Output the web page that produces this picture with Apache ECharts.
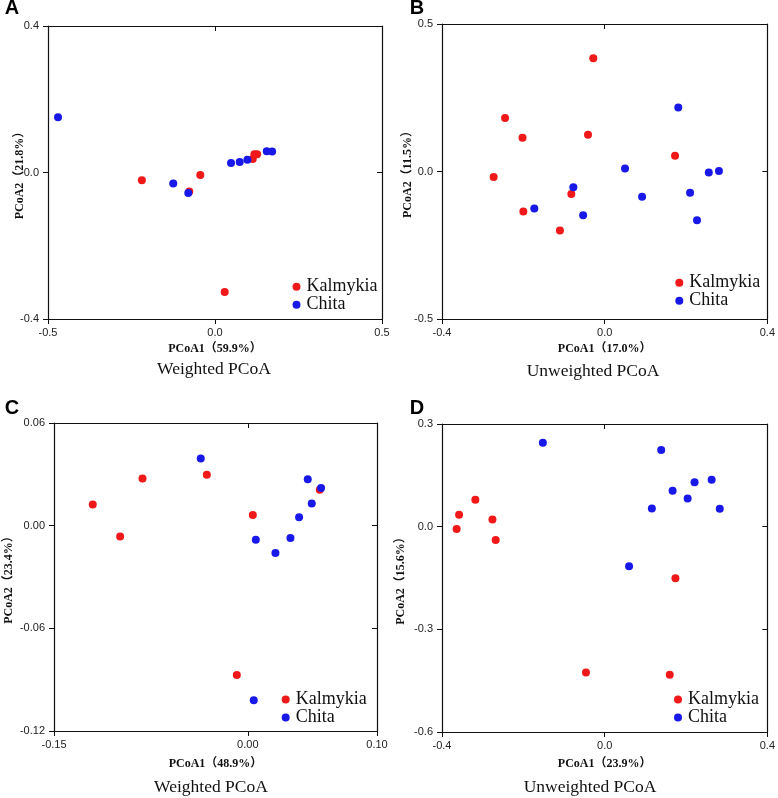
<!DOCTYPE html>
<html>
<head>
<meta charset="utf-8">
<title>PCoA</title>
<script src="https://cdn.jsdelivr.net/npm/echarts@6/dist/echarts.min.js"></script>
<style>
  html, body { margin: 0; padding: 0; background: #fff; }
  #chart { width: 778px; height: 798px; }
</style>
</head>
<body>
<div id="chart"></div>
<script>
// PCoA coordinates, [PCoA1, PCoA2]
const weightedA_kalmykia = [[-0.219, -0.021], [-0.044, -0.007], [-0.077, -0.052], [0.113, 0.037], [0.118, 0.050], [0.126, 0.050], [0.029, -0.326]];
const weightedA_chita = [[-0.470, 0.151], [-0.125, -0.030], [-0.080, -0.056], [0.048, 0.026], [0.074, 0.029], [0.097, 0.035], [0.155, 0.058], [0.171, 0.057]];

const unweightedB_kalmykia = [[-0.028, 0.384], [-0.245, 0.181], [-0.202, 0.114], [-0.041, 0.125], [-0.273, -0.019], [-0.082, -0.076], [-0.200, -0.136], [-0.110, -0.200], [0.173, 0.053]];
const unweightedB_chita = [[0.181, 0.217], [0.050, 0.010], [0.256, -0.003], [0.281, 0.002], [-0.077, -0.053], [0.210, -0.072], [0.092, -0.086], [-0.173, -0.125], [-0.053, -0.148], [0.227, -0.165]];

const weightedC_kalmykia = [[-0.120, 0.0123], [-0.0988, -0.0064], [-0.0815, 0.0275], [-0.0317, 0.0298], [0.0039, 0.0062], [0.0557, 0.021], [-0.0085, -0.0873]];
const weightedC_chita = [[-0.0364, 0.0392], [0.0464, 0.0271], [0.0567, 0.0220], [0.0495, 0.0130], [0.0397, 0.0049], [0.033, -0.0072], [0.0062, -0.0082], [0.0214, -0.016], [0.0046, -0.102]];

const unweightedD_kalmykia = [[-0.364, -0.007], [-0.358, 0.035], [-0.318, 0.079], [-0.276, 0.021], [-0.268, -0.039], [0.174, -0.151], [-0.046, -0.426], [0.160, -0.433]];
const unweightedD_chita = [[-0.152, 0.245], [0.139, 0.224], [0.263, 0.137], [0.221, 0.130], [0.167, 0.105], [0.204, 0.082], [0.116, 0.053], [0.283, 0.052], [0.060, -0.116]];

// tick values of each panel (first, second ... last)
const xTicksA = [-0.5, 0, 0.5];
const yTicksA = [-0.4, 0, 0.4];
const xTicksB = [-0.4, 0, 0.4];
const yTicksB = [-0.5, 0, 0.5];
const xTicksC = [-0.15, 0, 0.10];
const yTicksC = [-0.12, -0.06, 0, 0.06];
const xTicksD = [-0.4, 0, 0.4];
const yTicksD = [-0.6, -0.3, 0, 0.3];

const groups = ['Kalmykia', 'Chita'];
const xNames = ['PCoA1（59.9%）', 'PCoA1（17.0%）', 'PCoA1（48.9%）', 'PCoA1（23.9%）'];
const yNames = ['PCoA2（21.8%）', 'PCoA2（11.5%）', 'PCoA2（23.4%）', 'PCoA2（15.6%）'];
const subTitles = ['Weighted PCoA', 'Unweighted PCoA', 'Weighted PCoA', 'Unweighted PCoA'];
const letters = ['A', 'B', 'C', 'D'];

const panelData = [
  [weightedA_kalmykia, weightedA_chita],
  [unweightedB_kalmykia, unweightedB_chita],
  [weightedC_kalmykia, weightedC_chita],
  [unweightedD_kalmykia, unweightedD_chita]
];
const panelTicks = [[xTicksA, yTicksA], [xTicksB, yTicksB], [xTicksC, yTicksC], [xTicksD, yTicksD]];
const decimals = [1, 1, 2, 1];

// layout (pixels)
const layout = [
  { left: 48, top: 26, width: 334, height: 293, yGap: 22, xGap: 24, lgLeft: 292.5, lgTop: 277.7, lgRow: 16, letter: [12, 8], sub: [214, 369] },
  { left: 442, top: 24, width: 326, height: 295, yGap: 28.5, xGap: 24, lgLeft: 675.3, lgTop: 273.7, lgRow: 16, letter: [417, 8], sub: [593, 371] },
  { left: 54, top: 423, width: 323, height: 308, yGap: 39, xGap: 26.5, lgLeft: 281.7, lgTop: 690.5, lgRow: 17, letter: [12, 408], sub: [211, 787] },
  { left: 442, top: 424, width: 327, height: 308, yGap: 35, xGap: 25.5, lgLeft: 674, lgTop: 690.5, lgRow: 17, letter: [417, 408], sub: [590, 787] }
];

const colors = ['#f01818', '#1818e8'];
const serif = '"Liberation Serif", "Times New Roman", "Noto Sans CJK SC", serif';
const sans = '"Liberation Sans", Arial, sans-serif';
const axisLine = { show: true, onZero: false, lineStyle: { color: '#111', width: 1.2 } };

const chart = echarts.init(document.getElementById('chart'));

const grid = [], xAxis = [], yAxis = [], series = [], legend = [], graphic = [];

layout.forEach((L, i) => {
  grid.push({ left: L.left, top: L.top, width: L.width, height: L.height });
  const xt = panelTicks[i][0], yt = panelTicks[i][1];
  const fmt = (v) => v.toFixed(decimals[i]);
  const base = (t) => ({
    type: 'value', gridIndex: i,
    min: t[0], max: t[t.length - 1], interval: t[1] - t[0],
    splitLine: { show: false }, axisLine: axisLine
  });
  // bottom / left: labels, ticks pointing out
  xAxis.push(Object.assign(base(xt), {
    position: 'bottom',
    name: xNames[i], nameLocation: 'middle', nameGap: L.xGap, nameMoveOverlap: false,
    nameTextStyle: { fontFamily: serif, fontWeight: 'bold', fontSize: 12, color: '#111' },
    axisTick: { show: true, inside: false, length: 5, lineStyle: { color: '#111' } },
    axisLabel: { formatter: fmt, margin: 8, fontFamily: sans, fontSize: 11, color: '#222', showMinLabel: true, showMaxLabel: true }
  }));
  yAxis.push(Object.assign(base(yt), {
    position: 'left',
    name: yNames[i], nameLocation: 'middle', nameGap: L.yGap, nameRotate: 90, nameMoveOverlap: false,
    nameTextStyle: { fontFamily: serif, fontWeight: 'bold', fontSize: 12, color: '#111' },
    axisTick: { show: true, inside: false, length: 5, lineStyle: { color: '#111' } },
    axisLabel: { formatter: fmt, margin: 9, fontFamily: sans, fontSize: 11, color: '#222', showMinLabel: true, showMaxLabel: true }
  }));
  graphic.push({
    type: 'text', x: L.letter[0], y: L.letter[1],
    style: { text: letters[i], font: 'bold 20px ' + sans, fill: '#000', align: 'center', verticalAlign: 'middle' }
  });
  graphic.push({
    type: 'text', x: L.sub[0], y: L.sub[1],
    style: { text: subTitles[i], font: '17.5px ' + serif, fill: '#111', align: 'center', verticalAlign: 'middle' }
  });
  legend.push({
    data: groups, orient: 'vertical', left: L.lgLeft, top: L.lgTop,
    icon: 'circle', itemWidth: 8, itemHeight: 8, itemGap: 0, padding: 0,
    selectedMode: false,
    textStyle: { fontFamily: serif, fontSize: 18, lineHeight: L.lgRow, color: '#111', padding: [0, 0, 0, 1] }
  });
  groups.forEach((g, k) => {
    series.push({
      type: 'scatter', name: g, xAxisIndex: i, yAxisIndex: i,
      symbolSize: 8, itemStyle: { color: colors[k], opacity: 1 },
      data: panelData[i][k]
    });
  });
});

// mirrored top / right axes: ticks pointing in, no labels
layout.forEach((L, i) => {
  const xt = panelTicks[i][0], yt = panelTicks[i][1];
  xAxis.push({
    type: 'value', gridIndex: i, position: 'top',
    min: xt[0], max: xt[xt.length - 1], interval: xt[1] - xt[0],
    splitLine: { show: false }, axisLine: axisLine,
    axisTick: { show: true, inside: true, length: 5, lineStyle: { color: '#111' } },
    axisLabel: { show: false }
  });
  yAxis.push({
    type: 'value', gridIndex: i, position: 'right',
    min: yt[0], max: yt[yt.length - 1], interval: yt[1] - yt[0],
    splitLine: { show: false }, axisLine: axisLine,
    axisTick: { show: true, inside: true, length: 5, lineStyle: { color: '#111' } },
    axisLabel: { show: false }
  });
});

chart.setOption({
  animation: false,
  backgroundColor: '#fff',
  color: colors,
  grid: grid,
  xAxis: xAxis,
  yAxis: yAxis,
  legend: legend,
  graphic: graphic,
  series: series
});
</script>
</body>
</html>
